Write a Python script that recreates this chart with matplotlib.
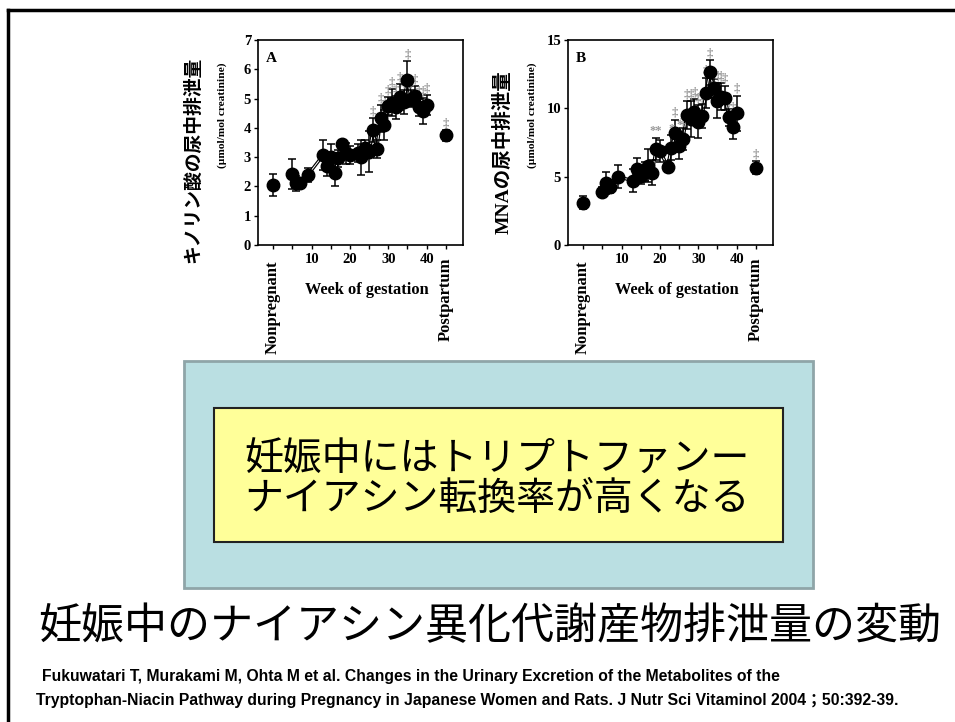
import matplotlib
matplotlib.use("Agg")
import matplotlib.pyplot as plt
from matplotlib.patches import Rectangle

# ---- data ----
weeks = [0, 5, 6, 7, 9, 13, 14, 15, 16, 17, 18, 19, 20, 22, 23, 24, 25, 26, 27,
         28, 29, 30, 31, 32, 33, 34, 35, 36, 37, 38, 39, 40, 45]

qa_mean = [2.05, 2.42, 2.10, 2.13, 2.39, 3.07, 2.70, 2.99, 2.47, 2.96, 3.45, 3.13,
           3.07, 3.15, 3.00, 3.30, 3.18, 3.92, 3.27, 4.32, 4.10, 4.74, 4.86, 4.70,
           5.06, 4.89, 5.63, 5.00, 5.09, 4.70, 4.57, 4.78, 3.74]
qa_sd = [0.37, 0.50, 0.25, 0.15, 0.25, 0.50, 0.35, 0.45, 0.45, 0.30, 0.15, 0.35,
         0.30, 0.30, 0.60, 0.30, 0.70, 0.40, 0.30, 0.45, 0.50, 0.30, 0.45, 0.40,
         0.45, 0.40, 0.65, 0.30, 0.35, 0.30, 0.45, 0.35, 0.20]

mna_mean = [3.10, 3.88, 4.56, 4.27, 5.00, 4.70, 5.54, 5.07, 5.37, 5.80, 5.30, 7.02,
            6.90, 5.73, 7.12, 8.17, 7.27, 7.76, 9.51, 9.20, 9.76, 9.02, 9.44, 11.15,
            12.63, 11.46, 10.56, 10.85, 10.76, 9.34, 8.66, 9.63, 5.66]
mna_sd = [0.45, 0.40, 0.80, 0.50, 0.85, 0.85, 0.80, 0.60, 0.70, 1.20, 0.90, 0.80,
          0.80, 0.40, 0.90, 1.00, 1.00, 0.80, 1.00, 1.30, 0.90, 1.20, 0.90, 1.10,
          0.90, 0.70, 1.30, 1.00, 0.90, 0.60, 0.90, 1.30, 0.50]

sig_weeks_a = [26, 28, 29, 30, 31, 32, 33, 34, 35, 36, 37, 38, 39, 40, 45]
sig_marks_a = ["‡"] * len(sig_weeks_a)
sig_weeks_b = [19, 23, 24, 25, 26, 27, 28, 29, 30, 31, 32, 33, 34, 35, 36, 37,
               38, 39, 40, 45]
sig_marks_b = ["**", "*", "‡", "*"] + ["‡"] * 16

x_ticks = [10, 20, 30, 40]
minor_ticks = [0, 5, 15, 25, 35, 45]

W, H = 955, 722
fig = plt.figure(figsize=(W / 100, H / 100), dpi=100)

def px(x, y):
    return x / W, 1 - y / H

serif = ["Liberation Serif", "Noto Sans CJK JP"]
jp = ["Noto Sans CJK JP", "DejaVu Sans"]


def panel(left, mean, sd, ymax, yticks, letter, sig_w, sig_m, offs):
    ax = fig.add_axes([left / W, 1 - 245 / H, 205 / W, 205 / H])
    # connecting line through the gestation weeks (double-line look)
    ax.plot(weeks[1:-1], mean[1:-1], color="black", lw=2.4, zorder=2)
    ax.plot(weeks[1:-1], mean[1:-1], color="white", lw=0.7, zorder=2)
    ax.errorbar(weeks, mean, yerr=sd, fmt="none", ecolor="black", elinewidth=1.1,
                capsize=3, capthick=1.1, zorder=3)
    ax.plot(weeks, mean, "o", color="black", ms=9, zorder=4)
    for w, m in zip(sig_w, sig_m):
        i = weeks.index(w)
        ax.text(w, mean[i] + sd[i] + offs, m, ha="center", va="bottom",
                color="#999999", fontsize=9, family=serif, fontweight="bold")
    ax.set_xlim(-4, 49.5)
    ax.set_ylim(0, ymax)
    ax.set_yticks(yticks)
    ax.set_xticks(x_ticks)
    ax.set_xticks(minor_ticks, minor=True)
    ax.tick_params(axis="y", direction="out", length=3, width=1, pad=2)
    ax.tick_params(axis="x", which="both", direction="out", length=3, width=1, pad=3)
    for lab in ax.get_xticklabels() + ax.get_yticklabels():
        lab.set_family(serif)
        lab.set_fontweight("bold")
        lab.set_fontsize(10.5)
    for s in ax.spines.values():
        s.set_linewidth(1.2)
    ax.text(0.04, 0.94, letter, transform=ax.transAxes, ha="left", va="top",
            family=serif, fontweight="bold", fontsize=11)
    return ax


panel(258, qa_mean, qa_sd, 7, range(0, 8), "A", sig_weeks_a, sig_marks_a, 0.02)
panel(568, mna_mean, mna_sd, 15, [0, 5, 10, 15], "B", sig_weeks_b, sig_marks_b, 0.05)

# axis texts drawn in figure pixels
for off in (0, 310):
    fig.text(*px(367 + off, 290), "Week of gestation", ha="center", va="center",
             family=serif, fontweight="bold", fontsize=11.8)
    fig.text(*px(273 + off, 261), "Nonpregnant", ha="center", va="top", rotation=90,
             family=serif, fontweight="bold", fontsize=12)
    fig.text(*px(446 + off, 257), "Postpartum", ha="center", va="top", rotation=90,
             family=serif, fontweight="bold", fontsize=12)
    fig.text(*px(222 + off, 115), "(µmol/mol creatinine)", ha="center", va="center",
             rotation=90, family=serif, fontweight="bold", fontsize=8.2)

fig.text(*px(193, 160), "キノリン酸の尿中排泄量", ha="center", va="center", rotation=90,
         family=jp, fontsize=13.5, fontweight="bold")
fig.text(*px(503, 152), "MNAの尿中排泄量", ha="center", va="center", rotation=90,
         family=serif, fontsize=14, fontweight="bold")

# slide frame
fig.add_artist(plt.Line2D([8 / W, 8 / W], [0, 1 - 10 / H], color="black", lw=2.5,
                          transform=fig.transFigure))
fig.add_artist(plt.Line2D([8 / W, 1], [1 - 10 / H, 1 - 10 / H], color="black", lw=2.5,
                          transform=fig.transFigure))

# boxes
fig.add_artist(Rectangle(px(184, 588), 629 / W, 227 / H, transform=fig.transFigure,
                         facecolor="#BADFE2", edgecolor="#8FA5A8", lw=2))
fig.add_artist(Rectangle(px(214, 542), 569 / W, 134 / H, transform=fig.transFigure,
                         facecolor="#FFFF99", edgecolor="#222222", lw=1.5))
fig.text(*px(497, 460), "妊娠中にはトリプトファンー", ha="center", va="center",
         family=jp, fontsize=28)
fig.text(*px(497, 499), "ナイアシン転換率が高くなる", ha="center", va="center",
         family=jp, fontsize=28)

fig.text(*px(490, 627), "妊娠中のナイアシン異化代謝産物排泄量の変動", ha="center",
         va="center", family=jp, fontsize=31)

cite = ["Liberation Sans", "Noto Sans CJK JP"]
fig.text(*px(42, 676), "Fukuwatari T, Murakami M, Ohta M et al. Changes in the Urinary "
         "Excretion of the Metabolites of the", ha="left", va="center",
         family=cite, fontweight="bold", fontsize=11.3)
fig.text(*px(36, 701), "Tryptophan-Niacin Pathway during Pregnancy in Japanese Women and "
         "Rats. J Nutr Sci Vitaminol 2004；50:392-39.", ha="left", va="center",
         family=cite, fontweight="bold", fontsize=11.3)

fig.savefig("out.png", dpi=100)
